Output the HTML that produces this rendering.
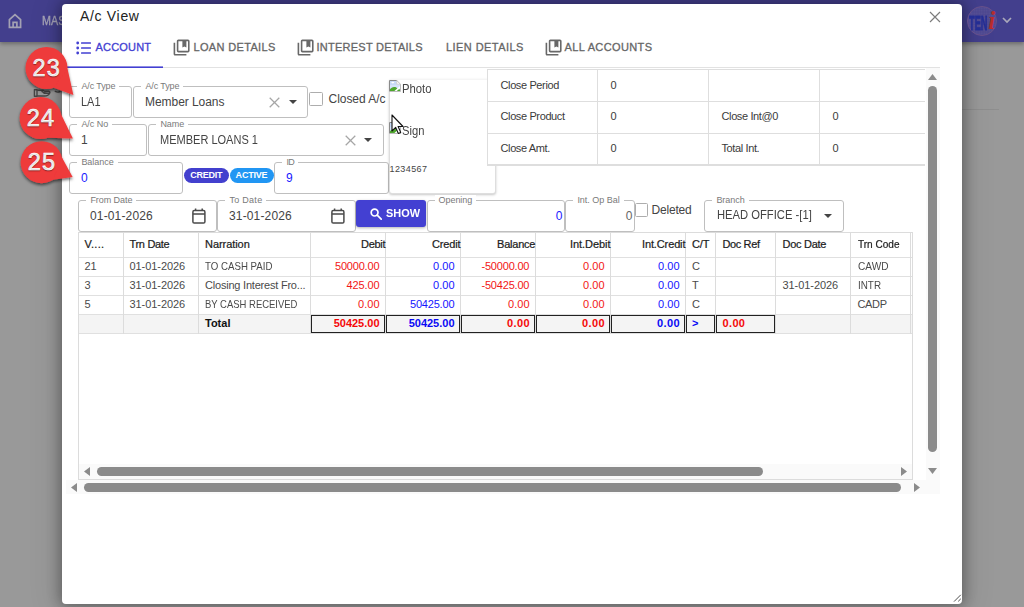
<!DOCTYPE html>
<html lang="en">
<head>
<meta charset="utf-8">
<title>A/c View</title>
<style>
*{box-sizing:border-box;margin:0;padding:0}
html,body{width:1024px;height:607px;overflow:hidden}
body{font-family:"Liberation Sans",sans-serif;background:#999;position:relative;color:#333}
.a,.t,svg{position:absolute}
.t{white-space:nowrap}
.fld{position:absolute;border:1px solid #bfbfbf;border-radius:3px;background:#fff}
.lbl{position:absolute;top:-6px;font-size:9px;color:#7a7a7a;background:#fff;padding:0 4px;line-height:10px;white-space:nowrap}
.chip{position:absolute;height:15px;border-radius:8px;color:#fff;font-weight:700;font-size:9px;line-height:15px;text-align:center;white-space:nowrap}
#info table{border-collapse:collapse;table-layout:fixed;width:444px;font-size:11px;letter-spacing:-.38px;color:#3a3a3a}
#info td{width:111px;height:32px;border:1px solid #dedede;padding:0 0 1px 12.5px;white-space:nowrap}
#info td:first-child{width:110px}
#info tr.l td{border-bottom:2px solid #dedede;height:31.5px}
#info tr+tr td{padding-bottom:2.5px}
</style>
</head>
<body>
<div class="a" style="left:0;top:0;width:1024px;height:42px;background:#433f8d;box-shadow:0 2px 4px rgba(0,0,0,.3)"></div>
<svg style="left:8px;top:13px" width="14" height="16" viewBox="8 13 14 16" fill="none" stroke="#a3a1b3" stroke-width="1.7" stroke-linejoin="miter"><path d="M15 14.600 9.400 19.700V27.300H20.600V19.700z"/><path d="M13.100 27.300v-5h3.800v5"/></svg>
<div class="t" style="top:13.5px;font-size:12.5px;line-height:15px;color:#a6a4b6;left:42px;-webkit-text-stroke:.35px #a6a4b6;transform:scaleX(.86);transform-origin:0 50%;">MAS</div>
<svg style="left:33px;top:88px" width="30" height="10" viewBox="33 88 30 10" fill="none" stroke="#454545" stroke-width="1.400" stroke-linejoin="round" stroke-linecap="round"><path d="M34.400 89.700h2.600v6.600h-2.600z"/><path d="M37.600 90.200h5.600l1.400 1h4.200q1.200.2 1.100 1.200-.1.800-1.200.9h-4.600"/><path d="M37.600 96h6.800q4.200-.2 5.200-2.800"/><path d="M42 91.600q2 1.800 4 1.600"/><path d="M55.300 91.400q2.400 1.300 4.600.2"/></svg>
<div class="a" style="left:962px;top:109px;width:37px;height:1px;background:#8e8e8e"></div>
<div class="a" style="left:62px;top:4px;width:900px;height:600px;background:#fff;border-radius:4px;box-shadow:0 0 14px 2px rgba(0,0,0,.33),0 2px 30px 6px rgba(0,0,0,.1)"></div>
<div class="t" style="top:7px;font-size:14px;line-height:18px;color:#222;letter-spacing:0.68px;left:80px;">A/c View</div>
<svg style="left:928px;top:10px" width="14" height="14" viewBox="0 0 14 14" stroke="#7c7c7c" stroke-width="1.150" fill="none"><path d="M2 2l10 10M12 2L2 12"/></svg>
<svg style="left:76px;top:41px" width="16" height="14" viewBox="0 0 16 14" fill="#4340d2"><circle cx="1.700" cy="2" r="1.400"/><circle cx="1.700" cy="7" r="1.400"/><circle cx="1.700" cy="12" r="1.400"/><rect x="5" y="1.200" width="10" height="1.600" rx=".5"/><rect x="5" y="6.200" width="10" height="1.600" rx=".5"/><rect x="5" y="11.200" width="10" height="1.600" rx=".5"/></svg>
<div class="t" style="top:41px;font-size:11px;line-height:13px;color:#4340d2;letter-spacing:0.20px;left:95.5px;-webkit-text-stroke:.3px #4340d2;">ACCOUNT</div>
<svg style="left:171.7px;top:38.300px" width="19.200" height="19.200" viewBox="0 0 24 24" fill="#686868"><path d="M4 6H2v14c0 1.1.9 2 2 2h14v-2H4V6z"/><path d="M20 2H8c-1.1 0-2 .9-2 2v12c0 1.1.9 2 2 2h12c1.1 0 2-.9 2-2V4c0-1.1-.9-2-2-2zm0 14H8V4h5v8l2.5-1.5L18 12V4h2v12z" fill-rule="evenodd"/></svg>
<div class="t" style="top:41px;font-size:11px;line-height:13px;color:#666;letter-spacing:0.34px;left:193.5px;-webkit-text-stroke:.3px #666;">LOAN DETAILS</div>
<svg style="left:295.7px;top:38.300px" width="19.200" height="19.200" viewBox="0 0 24 24" fill="#686868"><path d="M4 6H2v14c0 1.1.9 2 2 2h14v-2H4V6z"/><path d="M20 2H8c-1.1 0-2 .9-2 2v12c0 1.1.9 2 2 2h12c1.1 0 2-.9 2-2V4c0-1.1-.9-2-2-2zm0 14H8V4h5v8l2.5-1.5L18 12V4h2v12z" fill-rule="evenodd"/></svg>
<div class="t" style="top:41px;font-size:11px;line-height:13px;color:#666;letter-spacing:0.25px;left:316.5px;-webkit-text-stroke:.3px #666;">INTEREST DETAILS</div>
<div class="t" style="top:41px;font-size:11px;line-height:13px;color:#666;letter-spacing:0.43px;left:446px;-webkit-text-stroke:.3px #666;">LIEN DETAILS</div>
<svg style="left:543.7px;top:38.300px" width="19.200" height="19.200" viewBox="0 0 24 24" fill="#686868"><path d="M4 6H2v14c0 1.1.9 2 2 2h14v-2H4V6z"/><path d="M20 2H8c-1.1 0-2 .9-2 2v12c0 1.1.9 2 2 2h12c1.1 0 2-.9 2-2V4c0-1.1-.9-2-2-2zm0 14H8V4h5v8l2.5-1.5L18 12V4h2v12z" fill-rule="evenodd"/></svg>
<div class="t" style="top:41px;font-size:11px;line-height:13px;color:#666;letter-spacing:0.38px;left:564.5px;-webkit-text-stroke:.3px #666;">ALL ACCOUNTS</div>
<div class="a" style="left:62px;top:67px;width:878px;height:1px;background:#e2e2e2"></div>
<div class="a" style="left:67px;top:66px;width:96px;height:1px;background:#8e8ce4"></div>
<div class="a" style="left:67px;top:67px;width:96px;height:1px;background:#4340d2"></div>
<div class="fld" style="left:69px;top:86px;width:63px;height:32px"><span class="lbl" style="left:7.4px;letter-spacing:-0.12px">A/c Type</span></div>
<div class="t" style="top:95px;font-size:12px;line-height:14.4px;color:#444;transform:scaleX(0.913);transform-origin:0 50%;left:81px;">LA1</div>
<div class="fld" style="left:133px;top:86px;width:175px;height:32px"><span class="lbl" style="left:7.4px;letter-spacing:-0.12px">A/c Type</span></div>
<div class="t" style="top:95px;font-size:12px;line-height:14.4px;color:#444;letter-spacing:-0.05px;left:145px;">Member Loans</div>
<svg style="left:269px;top:96.5px" width="11" height="11" viewBox="0 0 11 11" stroke="#a6a6a6" stroke-width="1.250" fill="none"><path d="M.7.7l9.600 9.600M10.300.7L.7 10.300"/></svg>
<svg style="left:288.5px;top:100px" width="8" height="4" viewBox="0 0 8 4" fill="#444"><path d="M0 0h8L4 4z"/></svg>
<div class="fld" style="left:69px;top:124px;width:78px;height:32px"><span class="lbl" style="left:7.4px;letter-spacing:-0.04px">A/c No</span></div>
<div class="t" style="top:133px;font-size:12px;line-height:14.4px;color:#444;left:81px;">1</div>
<div class="fld" style="left:148px;top:124px;width:236px;height:32px"><span class="lbl" style="left:7.4px;letter-spacing:-0.07px">Name</span></div>
<div class="t" style="top:133px;font-size:12px;line-height:14.4px;color:#444;transform:scaleX(0.918);transform-origin:0 50%;left:160px;">MEMBER LOANS 1</div>
<svg style="left:344.5px;top:134.5px" width="11" height="11" viewBox="0 0 11 11" stroke="#a6a6a6" stroke-width="1.250" fill="none"><path d="M.7.7l9.600 9.600M10.300.7L.7 10.300"/></svg>
<svg style="left:363.5px;top:138px" width="8" height="4" viewBox="0 0 8 4" fill="#444"><path d="M0 0h8L4 4z"/></svg>
<div class="fld" style="left:69px;top:162px;width:114px;height:32px"><span class="lbl" style="left:7.4px;letter-spacing:-0.04px">Balance</span></div>
<div class="t" style="top:171px;font-size:12px;line-height:14.4px;color:#1a1aff;left:81px;">0</div>
<div class="fld" style="left:274px;top:162px;width:115px;height:32px"><span class="lbl" style="left:7.4px;letter-spacing:-0.70px">ID</span></div>
<div class="t" style="top:171px;font-size:12px;line-height:14.4px;color:#1a1aff;left:286px;">9</div>
<div class="a" style="left:309px;top:92px;width:14px;height:14px;border:1px solid #adadad;border-radius:1.5px;background:#fff"></div>
<div class="t" style="top:92px;font-size:12px;line-height:14.4px;color:#444;letter-spacing:-0.04px;left:328.5px;">Closed A/c</div>
<div class="chip" style="left:184px;top:168px;width:44.5px;background:#4340ce;letter-spacing:-.25px">CREDIT</div>
<div class="chip" style="left:229.5px;top:168px;width:44px;background:#2196f3;letter-spacing:-.2px">ACTIVE</div>
<div class="a" style="left:388.5px;top:79px;width:107.5px;height:115px;background:#fff;border-radius:3px;border:1px solid rgba(0,0,0,.13);border-top-color:rgba(0,0,0,.04);box-shadow:0 1px 2.5px rgba(0,0,0,.22)"></div>
<svg style="left:389px;top:80px" width="12" height="12" viewBox="0 0 12 12"><path d="M.5.500h7.300l3.700 3.700v7.300h-11z" fill="#fff"/><path d="M1 1h6.800v3.400h3.200V11H1z" fill="#c7daf8"/><path d="M1 5h10v3H1z" fill="#d5e3fa"/><ellipse cx="3.800" cy="2.600" rx="1.500" ry=".8" fill="#fff"/><path d="M1 11V9.300C2.200 7.300 4.600 6.300 7 7.300L8.800 9 11 9.500V11z" fill="#4ea72e"/><path d="M4.900 11.600l6.700-6v2.100l-4.400 3.900z" fill="#fff"/><path d="M7.800.5v3.700h3.700z" fill="#fff"/><path d="M.5 11.500V.5h7.300" fill="none" stroke="#8a8a8a" stroke-width="1"/><path d="M7.800.5l3.700 3.700V11.500H.5" fill="none" stroke="#b4b4b4" stroke-width=".9"/><path d="M7.800.5v3.700h3.700" fill="none" stroke="#c4c4c4" stroke-width=".7"/></svg>
<div class="t" style="top:83.2px;font-size:12px;line-height:13px;color:#444;transform:scaleX(0.941);transform-origin:0 50%;left:401.5px;">Photo</div>
<svg style="left:389px;top:122px" width="12" height="12" viewBox="0 0 12 12"><path d="M.5.500h7.300l3.700 3.700v7.300h-11z" fill="#fff"/><path d="M1 1h6.800v3.400h3.200V11H1z" fill="#c7daf8"/><path d="M1 5h10v3H1z" fill="#d5e3fa"/><ellipse cx="3.800" cy="2.600" rx="1.500" ry=".8" fill="#fff"/><path d="M1 11V9.300C2.200 7.300 4.600 6.300 7 7.300L8.800 9 11 9.500V11z" fill="#4ea72e"/><path d="M4.900 11.600l6.700-6v2.100l-4.400 3.900z" fill="#fff"/><path d="M7.800.5v3.700h3.700z" fill="#fff"/><path d="M.5 11.500V.5h7.300" fill="none" stroke="#8a8a8a" stroke-width="1"/><path d="M7.800.5l3.700 3.700V11.500H.5" fill="none" stroke="#b4b4b4" stroke-width=".9"/><path d="M7.800.5v3.700h3.700" fill="none" stroke="#c4c4c4" stroke-width=".7"/></svg>
<div class="t" style="top:125.2px;font-size:12px;line-height:13px;color:#444;transform:scaleX(0.936);transform-origin:0 50%;left:401.5px;">Sign</div>
<div class="t" style="top:163.5px;font-size:9px;line-height:10px;color:#444;letter-spacing:0.41px;left:389.5px;">1234567</div>
<div class="a" id="info" style="left:487px;top:69px;width:438px;height:97px;background:#fff;overflow:hidden">
<table cellspacing="0" cellpadding="0">
<tr><td>Close Period</td><td>0</td><td></td><td></td></tr>
<tr><td>Close Product</td><td>0</td><td>Close Int@0</td><td>0</td></tr>
<tr class="l"><td>Close Amt.</td><td>0</td><td>Total Int.</td><td>0</td></tr>
</table></div>
<div class="fld" style="left:78px;top:200px;width:139px;height:32px"><span class="lbl" style="left:7.4px;letter-spacing:-0.06px">From Date</span></div>
<div class="t" style="top:208.5px;font-size:12px;line-height:14.4px;color:#444;letter-spacing:0.15px;left:90px;">01-01-2026</div>
<svg style="left:192.2px;top:207.5px" width="14" height="16" viewBox="0 0 14 16" fill="none" stroke="#4a4a4a" stroke-width="1.5"><rect x=".9" y="2.600" width="12" height="12.400" rx="1.300"/><path d="M.9 5.900h12M3.600 .4v2.200M10.200 .4v2.200"/></svg>
<div class="fld" style="left:217px;top:200px;width:139px;height:32px"><span class="lbl" style="left:7.4px;letter-spacing:0.29px">To Date</span></div>
<div class="t" style="top:208.5px;font-size:12px;line-height:14.4px;color:#444;letter-spacing:0.15px;left:229px;">31-01-2026</div>
<svg style="left:331.2px;top:207.5px" width="14" height="16" viewBox="0 0 14 16" fill="none" stroke="#4a4a4a" stroke-width="1.5"><rect x=".9" y="2.600" width="12" height="12.400" rx="1.300"/><path d="M.9 5.900h12M3.600 .4v2.200M10.200 .4v2.200"/></svg>
<div class="a" style="left:356px;top:200px;width:70px;height:27px;background:#4340d2;border-radius:3px;box-shadow:0 1px 3px rgba(0,0,0,.3)"></div>
<svg style="left:369.5px;top:207.5px" width="12" height="12" viewBox="0 0 12 12" fill="none" stroke="#fff" stroke-width="1.7"><circle cx="4.6" cy="4.6" r="3.4"/><path d="M7.2 7.200l4 4" stroke-linecap="round"/></svg>
<div class="t" style="top:207px;font-size:11.5px;line-height:13px;color:#fff;font-weight:700;transform:scaleX(0.950);transform-origin:0 50%;left:386px;">SHOW</div>
<div class="fld" style="left:427px;top:200px;width:138px;height:32px"><span class="lbl" style="left:6.5px;letter-spacing:-0.04px">Opening</span></div>
<div class="t" style="top:208.5px;font-size:12px;line-height:14.4px;color:#1a1aff;right:461.50px;">0</div>
<div class="fld" style="left:565px;top:200px;width:70px;height:32px"><span class="lbl" style="left:7.4px;letter-spacing:-0.02px">Int. Op Bal</span></div>
<div class="t" style="top:208.5px;font-size:12px;line-height:14.4px;color:#666;right:391.50px;">0</div>
<div class="a" style="left:635px;top:203px;width:13px;height:14px;border:1px solid #adadad;border-radius:1.5px;background:#fff"></div>
<div class="t" style="top:203px;font-size:12px;line-height:14.4px;color:#444;letter-spacing:-0.19px;left:651.5px;">Deleted</div>
<div class="fld" style="left:704px;top:200px;width:140px;height:32px"><span class="lbl" style="left:7.4px;letter-spacing:-0.05px">Branch</span></div>
<div class="t" style="top:208px;font-size:12px;line-height:14.4px;color:#444;transform:scaleX(0.935);transform-origin:0 50%;left:716.5px;">HEAD OFFICE -[1]</div>
<svg style="left:824px;top:214px" width="8" height="4" viewBox="0 0 8 4" fill="#444"><path d="M0 0h8L4 4z"/></svg>
<div class="a" style="left:78px;top:232px;width:835px;height:248px;border:1px solid #dcdcdc;background:#fff"></div>
<div class="a" style="left:79px;top:314.5px;width:833px;height:18.5px;background:#f4f4f4"></div>
<div class="a" style="left:79px;top:257px;width:833px;height:1px;background:#e0e0e0"></div>
<div class="a" style="left:79px;top:276px;width:833px;height:1px;background:#e0e0e0"></div>
<div class="a" style="left:79px;top:295px;width:833px;height:1px;background:#e0e0e0"></div>
<div class="a" style="left:79px;top:314px;width:833px;height:1px;background:#e0e0e0"></div>
<div class="a" style="left:79px;top:333px;width:833px;height:1px;background:#e0e0e0"></div>
<div class="a" style="left:122.5px;top:233px;width:1px;height:100.5px;background:#dcdcdc"></div>
<div class="a" style="left:197.5px;top:233px;width:1px;height:100.5px;background:#dcdcdc"></div>
<div class="a" style="left:310.0px;top:233px;width:1px;height:100.5px;background:#dcdcdc"></div>
<div class="a" style="left:385.0px;top:233px;width:1px;height:100.5px;background:#dcdcdc"></div>
<div class="a" style="left:460.0px;top:233px;width:1px;height:100.5px;background:#dcdcdc"></div>
<div class="a" style="left:535.0px;top:233px;width:1px;height:100.5px;background:#dcdcdc"></div>
<div class="a" style="left:610.0px;top:233px;width:1px;height:100.5px;background:#dcdcdc"></div>
<div class="a" style="left:685.0px;top:233px;width:1px;height:100.5px;background:#dcdcdc"></div>
<div class="a" style="left:715.0px;top:233px;width:1px;height:100.5px;background:#dcdcdc"></div>
<div class="a" style="left:775.0px;top:233px;width:1px;height:100.5px;background:#dcdcdc"></div>
<div class="a" style="left:850.0px;top:233px;width:1px;height:100.5px;background:#dcdcdc"></div>
<div class="a" style="left:910.0px;top:233px;width:1px;height:100.5px;background:#dcdcdc"></div>
<div class="t" style="top:237.5px;font-size:11px;line-height:13.2px;color:#1c1c1c;letter-spacing:0.23px;left:84.5px;-webkit-text-stroke:.22px #1c1c1c;">V....</div>
<div class="t" style="top:237.5px;font-size:11px;line-height:13.2px;color:#1c1c1c;letter-spacing:-0.31px;left:129.5px;-webkit-text-stroke:.22px #1c1c1c;">Trn Date</div>
<div class="t" style="top:237.5px;font-size:11px;line-height:13.2px;color:#1c1c1c;letter-spacing:-0.06px;left:205px;-webkit-text-stroke:.22px #1c1c1c;">Narration</div>
<div class="t" style="top:237.5px;font-size:11px;line-height:13.2px;color:#1c1c1c;letter-spacing:-0.30px;right:638.80px;-webkit-text-stroke:.22px #1c1c1c;">Debit</div>
<div class="t" style="top:237.5px;font-size:11px;line-height:13.2px;color:#1c1c1c;letter-spacing:-0.17px;right:563.67px;-webkit-text-stroke:.22px #1c1c1c;">Credit</div>
<div class="t" style="top:237.5px;font-size:11px;line-height:13.2px;color:#1c1c1c;letter-spacing:-0.21px;right:488.71px;-webkit-text-stroke:.22px #1c1c1c;">Balance</div>
<div class="t" style="top:237.5px;font-size:11px;line-height:13.2px;color:#1c1c1c;letter-spacing:-0.06px;right:413.56px;-webkit-text-stroke:.22px #1c1c1c;">Int.Debit</div>
<div class="t" style="top:237.5px;font-size:11px;line-height:13.2px;color:#1c1c1c;letter-spacing:-0.13px;right:338.63px;-webkit-text-stroke:.22px #1c1c1c;">Int.Credit</div>
<div class="t" style="top:237.5px;font-size:11px;line-height:13.2px;color:#1c1c1c;letter-spacing:-0.12px;left:692px;-webkit-text-stroke:.22px #1c1c1c;">C/T</div>
<div class="t" style="top:237.5px;font-size:11px;line-height:13.2px;color:#1c1c1c;letter-spacing:-0.38px;left:722.5px;-webkit-text-stroke:.22px #1c1c1c;">Doc Ref</div>
<div class="t" style="top:237.5px;font-size:11px;line-height:13.2px;color:#1c1c1c;letter-spacing:-0.27px;left:782.5px;-webkit-text-stroke:.22px #1c1c1c;">Doc Date</div>
<div class="t" style="top:237.5px;font-size:11px;line-height:13.2px;color:#1c1c1c;transform:scaleX(0.913);transform-origin:0 50%;left:857.5px;-webkit-text-stroke:.22px #1c1c1c;">Trn Code</div>
<div class="t" style="top:259.5px;font-size:11px;line-height:13.2px;color:#4a4a4a;left:84.5px;">21</div>
<div class="t" style="top:259.5px;font-size:11px;line-height:13.2px;color:#4a4a4a;letter-spacing:-0.06px;left:129.5px;">01-01-2026</div>
<div class="t" style="top:259.5px;font-size:11px;line-height:13.2px;color:#4a4a4a;transform:scaleX(0.881);transform-origin:0 50%;left:205px;">TO CASH PAID</div>
<div class="t" style="top:259.5px;font-size:11px;line-height:13.2px;color:#f21616;letter-spacing:-0.20px;right:644.70px;">50000.00</div>
<div class="t" style="top:259.5px;font-size:11px;line-height:13.2px;color:#1414ff;right:569.47px;">0.00</div>
<div class="t" style="top:259.5px;font-size:11px;line-height:13.2px;color:#f21616;letter-spacing:-0.19px;right:494.69px;">-50000.00</div>
<div class="t" style="top:259.5px;font-size:11px;line-height:13.2px;color:#f21616;right:419.47px;">0.00</div>
<div class="t" style="top:259.5px;font-size:11px;line-height:13.2px;color:#1414ff;right:344.47px;">0.00</div>
<div class="t" style="top:259.5px;font-size:11px;line-height:13.2px;color:#4a4a4a;left:692px;">C</div>
<div class="t" style="top:259.5px;font-size:11px;line-height:13.2px;color:#4a4a4a;transform:scaleX(0.919);transform-origin:0 50%;left:857.5px;">CAWD</div>
<div class="t" style="top:278.5px;font-size:11px;line-height:13.2px;color:#4a4a4a;left:84.5px;">3</div>
<div class="t" style="top:278.5px;font-size:11px;line-height:13.2px;color:#4a4a4a;letter-spacing:-0.06px;left:129.5px;">31-01-2026</div>
<div class="t" style="top:278.5px;font-size:11px;line-height:13.2px;color:#4a4a4a;letter-spacing:-0.21px;left:205px;">Closing Interest Fro...</div>
<div class="t" style="top:278.5px;font-size:11px;line-height:13.2px;color:#f21616;letter-spacing:-0.13px;right:644.63px;">425.00</div>
<div class="t" style="top:278.5px;font-size:11px;line-height:13.2px;color:#1414ff;right:569.47px;">0.00</div>
<div class="t" style="top:278.5px;font-size:11px;line-height:13.2px;color:#f21616;letter-spacing:-0.19px;right:494.69px;">-50425.00</div>
<div class="t" style="top:278.5px;font-size:11px;line-height:13.2px;color:#f21616;right:419.47px;">0.00</div>
<div class="t" style="top:278.5px;font-size:11px;line-height:13.2px;color:#1414ff;right:344.47px;">0.00</div>
<div class="t" style="top:278.5px;font-size:11px;line-height:13.2px;color:#4a4a4a;left:692px;">T</div>
<div class="t" style="top:278.5px;font-size:11px;line-height:13.2px;color:#4a4a4a;letter-spacing:-0.06px;left:782.5px;">31-01-2026</div>
<div class="t" style="top:278.5px;font-size:11px;line-height:13.2px;color:#4a4a4a;transform:scaleX(0.896);transform-origin:0 50%;left:857.5px;">INTR</div>
<div class="t" style="top:297.5px;font-size:11px;line-height:13.2px;color:#4a4a4a;left:84.5px;">5</div>
<div class="t" style="top:297.5px;font-size:11px;line-height:13.2px;color:#4a4a4a;letter-spacing:-0.06px;left:129.5px;">31-01-2026</div>
<div class="t" style="top:297.5px;font-size:11px;line-height:13.2px;color:#4a4a4a;transform:scaleX(0.861);transform-origin:0 50%;left:205px;">BY CASH RECEIVED</div>
<div class="t" style="top:297.5px;font-size:11px;line-height:13.2px;color:#f21616;right:644.47px;">0.00</div>
<div class="t" style="top:297.5px;font-size:11px;line-height:13.2px;color:#1414ff;letter-spacing:-0.20px;right:569.70px;">50425.00</div>
<div class="t" style="top:297.5px;font-size:11px;line-height:13.2px;color:#f21616;right:494.47px;">0.00</div>
<div class="t" style="top:297.5px;font-size:11px;line-height:13.2px;color:#f21616;right:419.47px;">0.00</div>
<div class="t" style="top:297.5px;font-size:11px;line-height:13.2px;color:#1414ff;right:344.47px;">0.00</div>
<div class="t" style="top:297.5px;font-size:11px;line-height:13.2px;color:#4a4a4a;left:692px;">C</div>
<div class="t" style="top:297.5px;font-size:11px;line-height:13.2px;color:#4a4a4a;letter-spacing:-0.35px;left:857.5px;">CADP</div>
<div class="t" style="top:317px;font-size:11px;line-height:13.2px;color:#111;font-weight:700;left:205px;">Total</div>
<div class="a" style="left:311px;top:315px;width:74px;height:18px;border:1px solid #222"></div>
<div class="a" style="left:386px;top:315px;width:74px;height:18px;border:1px solid #222"></div>
<div class="a" style="left:461px;top:315px;width:74px;height:18px;border:1px solid #222"></div>
<div class="a" style="left:536px;top:315px;width:74px;height:18px;border:1px solid #222"></div>
<div class="a" style="left:611px;top:315px;width:74px;height:18px;border:1px solid #222"></div>
<div class="a" style="left:686px;top:315px;width:29px;height:18px;border:1px solid #222"></div>
<div class="a" style="left:716px;top:315px;width:59px;height:18px;border:1px solid #222"></div>
<div class="t" style="top:317px;font-size:11px;line-height:13.2px;color:#f40808;font-weight:700;right:644.48px;">50425.00</div>
<div class="t" style="top:317px;font-size:11px;line-height:13.2px;color:#0808f4;font-weight:700;right:569.48px;">50425.00</div>
<div class="t" style="top:317px;font-size:11px;line-height:13.2px;color:#f40808;font-weight:700;letter-spacing:0.36px;right:494.14px;">0.00</div>
<div class="t" style="top:317px;font-size:11px;line-height:13.2px;color:#f40808;font-weight:700;letter-spacing:0.36px;right:419.14px;">0.00</div>
<div class="t" style="top:317px;font-size:11px;line-height:13.2px;color:#0808f4;font-weight:700;letter-spacing:0.36px;right:344.14px;">0.00</div>
<div class="t" style="top:317px;font-size:11px;line-height:13.2px;color:#0808f4;font-weight:700;left:692px;">&gt;</div>
<div class="t" style="top:317px;font-size:11px;line-height:13.2px;color:#f40808;font-weight:700;letter-spacing:0.36px;left:722.5px;">0.00</div>
<div class="a" style="left:79px;top:464px;width:833px;height:15px;background:#fafafa"></div>
<svg style="left:83.5px;top:467px" width="6" height="9" viewBox="0 0 6 9" fill="#8b8b8b"><path d="M6 0v9L0 4.5z"/></svg>
<div class="a" style="left:97px;top:467px;width:666px;height:8.5px;background:#8b8b8b;border-radius:4.5px"></div>
<svg style="left:901px;top:467px" width="6" height="9" viewBox="0 0 6 9" fill="#8b8b8b"><path d="M0 0v9l6-4.5z"/></svg>
<div class="a" style="left:66px;top:480px;width:874px;height:13.5px;background:#fafafa"></div>
<svg style="left:70.5px;top:483px" width="6" height="9" viewBox="0 0 6 9" fill="#8b8b8b"><path d="M6 0v9L0 4.5z"/></svg>
<div class="a" style="left:84px;top:483px;width:816.5px;height:8.5px;background:#8b8b8b;border-radius:4.5px"></div>
<svg style="left:914px;top:483px" width="6" height="9" viewBox="0 0 6 9" fill="#8b8b8b"><path d="M0 0v9l6-4.5z"/></svg>
<div class="a" style="left:925.5px;top:68px;width:14.5px;height:412px;background:#fafafa"></div>
<svg style="left:928px;top:74px" width="9" height="6" viewBox="0 0 9 6" fill="#8b8b8b"><path d="M0 6h9L4.5 0z"/></svg>
<div class="a" style="left:928px;top:85.5px;width:8.5px;height:366px;background:#8b8b8b;border-radius:4.5px"></div>
<svg style="left:928px;top:467.5px" width="9" height="6" viewBox="0 0 9 6" fill="#8b8b8b"><path d="M0 0h9L4.5 6z"/></svg>
<svg style="left:951.500px;top:593.300px" width="10" height="10" viewBox="0 0 10 10" stroke="#4f4f4f" stroke-width="1" fill="none"><path d="M8.800 1.800L2 8.600M8.800 5.800L6.200 8.400"/></svg>
<svg style="left:0;top:40px" width="110" height="160" viewBox="0 40 110 160"><defs><filter id="cs" x="-20%" y="-20%" width="140%" height="150%"><feDropShadow dx="0" dy="2" stdDeviation="1.6" flood-color="#000" flood-opacity=".55"/></filter></defs><g filter="url(#cs)"><circle cx="46.5" cy="68" r="21" fill="#ee3a3b"/><path d="M67.5 68.7L73.4 95L53.7 87.7z" fill="#ee3a3b"/></g><text x="46.8" y="76.2" text-anchor="middle" font-family="Liberation Sans, sans-serif" font-size="23.500" letter-spacing="1.200" fill="#fff" stroke="#fff" stroke-width=".6" style="text-shadow:0 1px 1px rgba(0,0,0,.35)">23</text><g filter="url(#cs)"><circle cx="40.6" cy="118" r="21" fill="#ee3a3b"/><path d="M61.4 115.1L72.9 138.5L47.8 137.7z" fill="#ee3a3b"/></g><text x="40.9" y="126.2" text-anchor="middle" font-family="Liberation Sans, sans-serif" font-size="23.500" letter-spacing="1.200" fill="#fff" stroke="#fff" stroke-width=".6" style="text-shadow:0 1px 1px rgba(0,0,0,.35)">24</text><g filter="url(#cs)"><circle cx="41.6" cy="162.2" r="21" fill="#ee3a3b"/><path d="M62.1 157.8L72.6 177L53.0 179.8z" fill="#ee3a3b"/></g><text x="41.9" y="170.39999999999998" text-anchor="middle" font-family="Liberation Sans, sans-serif" font-size="23.500" letter-spacing="1.200" fill="#fff" stroke="#fff" stroke-width=".6" style="text-shadow:0 1px 1px rgba(0,0,0,.35)">25</text></svg>
<svg style="left:391px;top:114.300px" width="14" height="21" viewBox="0 0 14 21"><path d="M1 1v16l3.700-3.600 2.600 6 2.400-1-2.600-5.900H12z" fill="#fff" stroke="#111" stroke-width="1.100" stroke-linejoin="round"/></svg>
<div class="a" style="left:967px;top:6px;width:30px;height:30px;border-radius:15px;background-color:#4e4890;background-image:radial-gradient(rgba(160,150,185,.13) .6px,transparent .9px);background-size:2.500px 2.500px;border:1px solid #68508a"></div>
<div class="t" style="top:10.5px;font-size:21px;line-height:24px;color:#242e94;font-weight:700;left:969px;-webkit-text-stroke:.8px #242e94;transform:scaleX(.44);transform-origin:0 50%;">TEN</div>
<div class="t" style="top:7.6px;font-size:25px;line-height:26px;color:#b92c2c;font-weight:700;left:988.2px;font-family:'Liberation Serif',serif;font-style:italic;">i</div>
<svg style="left:1001.5px;top:17px" width="10" height="7" viewBox="0 0 10 7" fill="none" stroke="#aaa8ba" stroke-width="1.700"><path d="M1 1l4 4 4-4"/></svg>
</body>
</html>
